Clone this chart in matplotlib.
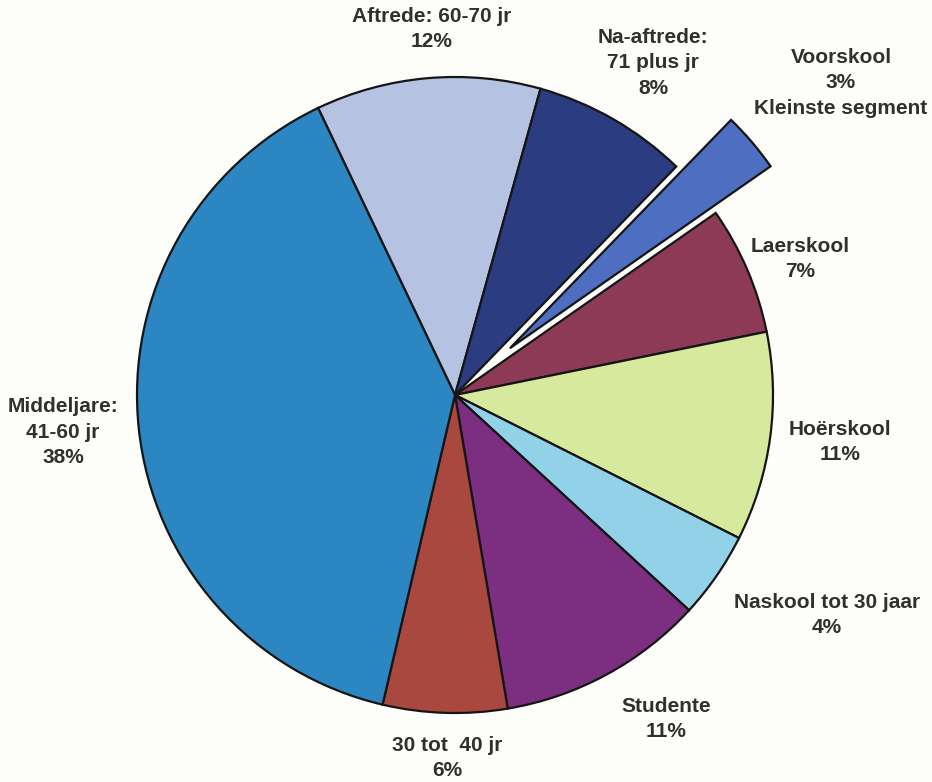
import matplotlib.pyplot as plt

# slices, clockwise from the top-left edge of "Aftrede"
names = ['Aftrede: 60-70 jr', 'Na-aftrede:\n71 plus jr', 'Voorskool', 'Laerskool',
         'Hoërskool', 'Naskool tot 30 jaar', 'Studente', '30 tot  40 jr',
         'Middeljare:\n41-60 jr']
shares = [11.4, 7.9, 3.05, 6.5, 10.6, 4.4, 10.5, 6.3, 39.2]
# percentages as printed on the chart
printed = [12, 8, 3, 7, 11, 4, 11, 6, 38]
extra = ['', '', '\nKleinste segment', '', '', '', '', '', '']

colors = ['#b6c2e2', '#2b3d80', '#4e6ec2', '#8c3a56', '#d6e99c',
          '#92d2e8', '#7c2f80', '#a9483f', '#2b86c1']

# label centres in pixel coordinates (x, y from top)
label_xy = [(432, 29), (653, 63), (841, 83), (800, 259), (840, 442),
            (827, 615), (666, 719), (447, 758), (63, 432)]

W, H = 932, 782
cx, cy, r = 455, H - 395, 318
# matplotlib's explode is an absolute offset in data units here
explode = [0, 0, 72, 0, 0, 0, 0, 0, 0]

fig = plt.figure(figsize=(W / 100, H / 100), dpi=100)
fig.patch.set_facecolor('#fdfdf9')
ax = fig.add_axes([0, 0, 1, 1])

ax.pie(shares, colors=colors, explode=explode, startangle=90 + 25.5,
       counterclock=False, radius=r, center=(cx, cy), frame=True,
       wedgeprops=dict(edgecolor='#151515', linewidth=1.6))
ax.set_xlim(0, W)
ax.set_ylim(0, H)
ax.set_aspect('equal')
ax.axis('off')

for name, p, ex, (x, y) in zip(names, printed, extra, label_xy):
    ax.text(x, H - y, f'{name}\n{p}%{ex}', ha='center', va='center',
            multialignment='center', fontsize=15, fontweight='bold',
            family='Liberation Sans', color='#303030', linespacing=1.45)

fig.savefig('out.png', dpi=100, facecolor=fig.get_facecolor())
